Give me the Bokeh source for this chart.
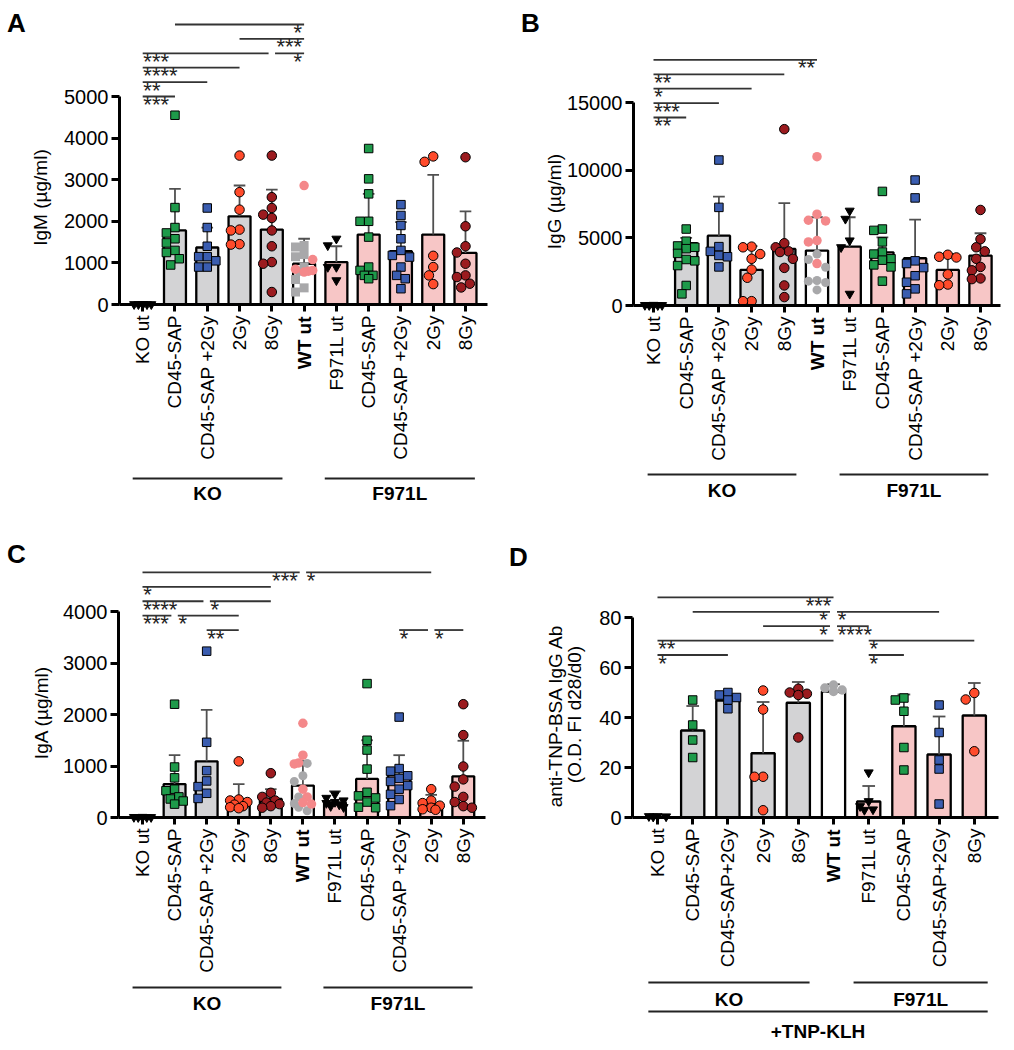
import math
from bokeh.plotting import figure
from bokeh.models import (ColumnDataSource, FixedTicker, Label, LinearAxis,
                          Range1d)
from bokeh.core.properties import value
from bokeh.embed import file_html
from bokeh.resources import INLINE

FONT = "Liberation Sans"

# ---------------------------------------------------------------- data
CATS_ABC = ["KO ut", "CD45-SAP", "CD45-SAP +2Gy", "2Gy", "8Gy", "WT ut",
            "F971L ut", "CD45-SAP", "CD45-SAP +2Gy", "2Gy", "8Gy"]
CATS_D = ["KO ut", "CD45-SAP", "CD45-SAP+2Gy", "2Gy", "8Gy", "WT ut",
          "F971L ut", "CD45-SAP", "CD45-SAP+2Gy", "8Gy"]
GROUPS = ["KO", "F971L"]
IMMUNIZATION = "+TNP-KLH"

# A: IgM
IGM_TICKS = [0, 1000, 2000, 3000, 4000, 5000]
IGM_MEAN = [5, 1780, 1370, 2120, 1800, 980, 1020, 1680, 1280, 1680, 1240]
IGM_SD = [0, 1000, 480, 740, 960, 600, 380, 980, 700, 1435, 1000]
IGM_POINTS = [
    [8, 6, 5, 4, 3, 2],
    [4550, 2330, 1850, 1720, 1580, 1480, 1300, 1250, 1100, 950],
    [2320, 1850, 1400, 1150, 1150, 1050, 900, 900],
    [3580, 2700, 2280, 1800, 1780, 1450, 1440],
    [3580, 2580, 2320, 2160, 2080, 1780, 1400, 1020, 980, 300],
    [1420, 1380, 1200, 1150, 900, 800, 600, 400, 300],
    [1580, 1420, 900, 900, 580],
    [3750, 3020, 2660, 2000, 2000, 1620, 900, 820, 700, 700, 620],
    [2400, 2140, 1900, 1580, 1300, 1180, 1140, 900, 700, 620, 380],
    [3560, 3430, 1170, 900, 700, 490],
    [3540, 1880, 1400, 1250, 980, 700, 660, 500, 410],
]
IGM_WT_PINK = [2860, 1080, 850, 820, 800, 780]
IGM_SIG = [(1, 5, "*", "R", 5), (3, 5, "***", "R", 4), (0, 4, "***", "L", 3),
           (4, 5, "*", "R", 3), (0, 3, "****", "L", 2), (0, 2, "**", "L", 1),
           (0, 1, "***", "L", 0)]

# B: IgG
IGG_TICKS = [0, 5000, 10000, 15000]
IGG_MEAN = [30, 4600, 5160, 2630, 4180, 4060, 4350, 3930, 3490, 2630, 3690]
IGG_SD = [0, 390, 2880, 1750, 3390, 2460, 2170, 1110, 2850, 1180, 1650]
IGG_POINTS = [
    [40, 30, 25, 20, 15, 10],
    [5650, 4750, 4400, 4300, 4200, 3850, 3400, 3300, 2950, 1480, 860],
    [10750, 7250, 4350, 4000, 3700, 3600, 2850],
    [4350, 4300, 3800, 3450, 2650, 2050, 320, 320],
    [13030, 4600, 4300, 4000, 3950, 3450, 2780, 1480, 620],
    [3800, 3400, 2830, 1850, 1800, 1700, 1150],
    [7000, 6400, 4800, 4300, 860],
    [8430, 5650, 5550, 4700, 3950, 3800, 3450, 3350, 3000, 2850, 1800],
    [9270, 7950, 3300, 3100, 2800, 2200, 1720, 1230, 860],
    [3750, 3600, 3550, 2300, 1550, 1500],
    [7060, 4900, 4300, 4000, 3450, 2850, 2600, 2000, 1950],
]
IGG_WT_PINK = [11000, 6750, 6300, 6250, 4800, 4700, 3100]
IGG_SIG = [(0, 5, "**", "R", 4), (0, 4, "**", "L", 3), (0, 3, "*", "L", 2),
           (0, 2, "***", "L", 1), (0, 1, "**", "L", 0)]

# C: IgA
IGA_TICKS = [0, 1000, 2000, 3000, 4000]
IGA_MEAN = [5, 650, 1090, 340, 360, 620, 290, 750, 820, 260, 800]
IGA_SD = [0, 560, 1000, 310, 190, 480, 220, 750, 390, 180, 690]
IGA_POINTS = [
    [10, 8, 6, 5, 4, 3],
    [2200, 980, 770, 550, 520, 400, 360, 320, 260],
    [3230, 1460, 910, 710, 600, 470, 370],
    [1090, 350, 330, 300, 250, 220, 200, 180],
    [860, 480, 400, 330, 290, 260, 220, 190],
    [1050, 810, 700, 400, 270, 200, 130],
    [450, 380, 330, 300, 280, 250, 220, 200],
    [2600, 1500, 1310, 940, 490, 420, 380, 300, 200, 190],
    [1950, 950, 900, 810, 760, 700, 620, 550, 450, 350, 230],
    [550, 330, 280, 230, 190, 160, 150],
    [2200, 1600, 990, 740, 600, 400, 300, 220, 190],
]
IGA_WT_PINK = [1830, 1210, 1060, 1040, 550, 400, 290, 260]
IGA_SIG = [(0, 5, "***", "R", 4), (5, 9, "*", "L", 4), (0, 4, "*", "L", 3),
           (0, 2, "****", "L", 2), (2, 4, "*", "L", 2), (0, 1, "***", "L", 1),
           (1, 3, "*", "L", 1), (2, 3, "**", "L", 0), (8, 9, "*", "L", 0),
           (9, 10, "*", "L", 0)]

# D: anti-TNP-BSA IgG
TNP_TICKS = [0, 20, 40, 60, 80]
TNP_MEAN = [0.3, 34.8, 46.8, 25.7, 45.9, 50.4, 6.4, 36.5, 25.2, 40.8]
TNP_SD = [0, 9.8, 2.0, 20.5, 8.3, 2.9, 6.2, 12.7, 15.2, 13.0]
TNP_POINTS = [
    [0.5, 0.5, 0.4, 0.3],
    [47, 37, 31, 24],
    [50, 49, 48, 47, 43.5],
    [50.8, 43.2, 16.3, 16.3, 2.9],
    [51.5, 50, 49.5, 49, 32],
    [53, 51.8, 51, 50.4],
    [18, 6.5, 4.5, 3.2, 3.0],
    [47.8, 47, 42.5, 28, 19],
    [45, 34, 23, 19.4, 5.4],
    [49.8, 47.2, 26.5],
]
TNP_SIG = [(0, 5, "***", "R", 4), (1, 5, "*", "R", 3), (5, 8, "*", "L", 3),
           (3, 5, "*", "R", 2), (5, 6, "****", "L", 2), (0, 5, "**", "L", 1),
           (6, 9, "*", "L", 1), (0, 2, "*", "L", 0), (6, 7, "*", "L", 0)]

# ---------------------------------------------------------------- styles
GREY_BAR = "#D3D3D5"
PINK_BAR = "#F7C6C6"
WHITE = "#FFFFFF"
GREEN = "#1E9A4A"
BLUE = "#3A5DB0"
RED = "#FF4B2B"
DRED = "#9B1B1F"
WT_GREY = "#A8A8AA"
WT_PINK = "#F4888A"

TRI = ("inverted_triangle", "black", "black", 9)
SQ_G = ("square", GREEN, "black", 8.5)
SQ_B = ("square", BLUE, "black", 8.5)
CI_R = ("circle", RED, "black", 9.5)
CI_D = ("circle", DRED, "black", 9.5)
PINK_PT = ("circle", WT_PINK, None, 9.5)

FILLS_ABC = [WHITE, GREY_BAR, GREY_BAR, GREY_BAR, GREY_BAR, WHITE,
             PINK_BAR, PINK_BAR, PINK_BAR, PINK_BAR, PINK_BAR]
FILLS_D = [WHITE, GREY_BAR, GREY_BAR, GREY_BAR, GREY_BAR, WHITE,
           PINK_BAR, PINK_BAR, PINK_BAR, PINK_BAR]


def marks_abc(wt_marker):
    return [TRI, SQ_G, SQ_B, CI_R, CI_D, (wt_marker, WT_GREY, None, 9),
            TRI, SQ_G, SQ_B, CI_R, CI_D]


MARKS_D = [TRI, SQ_G, SQ_B, CI_R, CI_D, ("circle", WT_GREY, None, 9.5),
           TRI, SQ_G, SQ_B, CI_R]

# page area covered by the single figure (the Bokeh page has no body margin)
PX0, PY0, PW, PH = 0, 0, 1008, 1046

p = figure(width=PW, height=PH, x_range=(0, PW), y_range=(PH, 0),
           x_axis_location=None, y_axis_location=None,
           output_backend="svg", toolbar_location=None, min_border=0)
p.title.visible = False
p.outline_line_color = None
p.grid.visible = False
p.background_fill_color = "white"

XR, YR = {}, {}


def swarm(vals, d, ppu, sx, maxw):
    """Horizontal offsets (category units) so markers do not overlap."""
    order = sorted(range(len(vals)), key=lambda k: -vals[k])
    cands = [0.0]
    for m in range(1, 8):
        cands += [-m * d * 0.5, m * d * 0.5]
    cands = [c for c in cands if abs(c) <= maxw]
    placed = []
    offs = [0.0] * len(vals)
    for k in order:
        y = vals[k] * ppu
        best = None
        for c in cands:
            if all((c - px) ** 2 + (y - py) ** 2 >= d * d for px, py in placed):
                best = c
                break
        if best is None:
            best = max(cands, key=lambda c: min((c - px) ** 2 + (y - py) ** 2
                                                 for px, py in placed))
        placed.append((best, y))
        offs[k] = best / sx
    return offs


def build(key, cfg, cats, means, sds, points, wt_pink, fills, marks, sigs,
          ticks, ytitle, letter, bar_w):
    xr, yr = key + "x", key + "y"
    sx = cfg["sx"]
    ppu = cfg["tick_px"] / ticks[-1]
    upp = 1.0 / ppu
    XR[xr] = Range1d((PX0 - cfg["px0"]) / sx, (PX0 + PW - cfg["px0"]) / sx)
    YR[yr] = Range1d((cfg["py0"] - PY0 - PH) * upp, (cfg["py0"] - PY0) * upp)
    rk = dict(x_range_name=xr, y_range_name=yr)

    def pdata(px, py):
        return (px - cfg["px0"]) / sx, (cfg["py0"] - py) * upp

    n = len(cats)
    yaxis_x = pdata(cfg["yax"], 0)[0]
    xend = pdata(cfg["xend"], 0)[0]

    xa = LinearAxis(ticker=FixedTicker(ticks=list(range(n))),
                    fixed_location=0, bounds=(yaxis_x, xend), **rk)
    ya = LinearAxis(ticker=FixedTicker(ticks=ticks), fixed_location=yaxis_x,
                    bounds=(0, ticks[-1]), **rk)
    for ax in (xa, ya):
        ax.axis_line_width = 3
        ax.axis_line_color = "black"
        ax.major_tick_line_width = 3
        ax.major_tick_line_color = "black"
        ax.major_tick_in = 0
        ax.minor_tick_line_color = None
        ax.major_label_text_font = FONT
        ax.major_label_text_color = "black"
    ya.major_label_text_font_size = "20px"
    xa.major_label_text_font_size = "19px"
    ya.major_tick_out = 8
    ya.major_label_standoff = 3
    xa.major_tick_out = 7
    xa.major_label_standoff = 4
    xa.major_label_orientation = math.pi / 2
    ov = {}
    for i, c in enumerate(cats):
        ov[i] = "" if c == "WT ut" else c
    xa.major_label_overrides = ov
    p.add_layout(xa, "below")
    p.add_layout(ya, "left")

    # bars
    xs = list(range(n))
    p.vbar(x="x", top="top", bottom=0, width=bar_w, fill_color="fill",
           line_color="black", line_width=2.3,
           source=ColumnDataSource(dict(x=xs, top=means, fill=fills)), **rk)
    # error bars (upper SD)
    ex, ey0, ey1, cx0, cx1 = [], [], [], [], []
    for i in range(n):
        if sds[i] > 0:
            ex.append(i); ey0.append(means[i]); ey1.append(means[i] + sds[i])
            cx0.append(i - 0.18); cx1.append(i + 0.18)
    p.segment(x0=ex, y0=ey0, x1=ex, y1=ey1, line_color="#505050",
              line_width=1.8, **rk)
    p.segment(x0=cx0, y0=ey1, x1=cx1, y1=ey1, line_color="#505050",
              line_width=1.8, **rk)

    # points
    groups = {}
    for i in range(n):
        vals = list(points[i])
        styles = [marks[i]] * len(vals)
        if cats[i] == "WT ut" and wt_pink:
            vals += list(wt_pink)
            styles += [PINK_PT] * len(wt_pink)
        offs = swarm(vals, 8.6, ppu, sx, 9.5)
        for v, o, st in zip(vals, offs, styles):
            g = groups.setdefault(st, ([], []))
            g[0].append(i + o)
            g[1].append(v)
    for st, (gx, gy) in groups.items():
        mk, fc, lc, sz = st
        p.scatter(x=gx, y=gy, marker=mk, size=sz, fill_color=fc,
                  line_color=lc, line_width=1, **rk)

    # significance brackets
    step = 14.4 * upp
    lx0, lx1, ly = [], [], []
    L = dict(x=[], y=[], t=[])
    R = dict(x=[], y=[], t=[])
    for (i, j, s, side, lev) in sigs:
        a, b = float(i), float(j)
        for (i2, j2, _, _, lev2) in sigs:
            if lev2 == lev and (i2, j2) != (i, j):
                if j2 == i:
                    a = i + 0.1
                if i2 == j:
                    b = j - 0.1
        y = cfg["sig_base"] + lev * step
        lx0.append(a); lx1.append(b); ly.append(y)
        ty = y - 8 * upp
        if side == "L":
            L["x"].append(a + 0.02); L["y"].append(ty); L["t"].append(s)
        else:
            R["x"].append(b - 0.06); R["y"].append(ty); R["t"].append(s)
    p.segment(x0=lx0, y0=ly, x1=lx1, y1=ly, line_color="#333333",
              line_width=1.8, **rk)
    for src, al in ((L, "left"), (R, "right")):
        p.text(x="x", y="y", text="t", source=ColumnDataSource(src),
               text_align=al, text_baseline="alphabetic",
               text_font=value(FONT), text_font_size="22px",
               text_color="#222222", **rk)

    # bold WT label on the category axis
    wi = cats.index("WT ut")
    p.add_layout(Label(x=wi, y=-12 * upp, text="WT ut", angle=math.pi / 2,
                       text_align="right", text_baseline="middle",
                       text_font=FONT, text_font_size="19px",
                       text_font_style="bold", text_color="black", **rk))

    # group brackets below the axis
    gx0, gx1, gy = [], [], []

    def btext(x, px_below, t):
        p.add_layout(Label(x=x, y=-px_below * upp, text=t, text_align="center",
                           text_baseline="middle", text_font=FONT,
                           text_font_size="19px", text_font_style="bold",
                           text_color="black", **rk))

    for name, (a, b) in zip(GROUPS, cfg["groups"]):
        gx0.append(a); gx1.append(b); gy.append(-cfg["gline"] * upp)
        btext((a + b) / 2, cfg["gtext"], name)
    if "imm" in cfg:
        a, b = cfg["groups"][0][0], cfg["groups"][1][1]
        gx0.append(a); gx1.append(b); gy.append(-cfg["imm"][0] * upp)
        btext((a + b) / 2, cfg["imm"][1], IMMUNIZATION)
    p.segment(x0=gx0, y0=gy, x1=gx1, y1=gy, line_color="#222222",
              line_width=2, **rk)

    # y title(s)
    for (tx, tyy, t) in ytitle:
        dx, dy = pdata(tx, tyy)
        p.add_layout(Label(x=dx, y=dy, text=t, angle=math.pi / 2,
                           text_align="center", text_baseline="middle",
                           text_font=FONT, text_font_size="19px",
                           text_color="black", **rk))
    # panel letter
    lx, lyy, lt = letter
    dx, dy = pdata(lx, lyy)
    p.add_layout(Label(x=dx, y=dy, text=lt, text_align="center",
                       text_baseline="middle", text_font=FONT,
                       text_font_size="26px", text_font_style="bold",
                       text_color="black", **rk))


CFG_A = dict(px0=142.2, sx=32.28, py0=304, tick_px=208, yax=119, xend=487,
             sig_base=5000, groups=[(-0.31, 4.33), (5.64, 10.29)],
             gline=174, gtext=189)
CFG_B = dict(px0=653, sx=32.7, py0=305, tick_px=203, yax=633, xend=1000,
             sig_base=13890, groups=[(-0.18, 4.37), (5.69, 10.24)],
             gline=169, gtext=185)
CFG_C = dict(px0=142, sx=32.08, py0=817, tick_px=206, yax=118, xend=485,
             sig_base=3640, groups=[(-0.31, 4.33), (5.64, 10.29)],
             gline=170, gtext=186)
CFG_D = dict(px0=657, sx=35.2, py0=817, tick_px=200, yax=632, xend=998,
             sig_base=65.0, groups=[(-0.26, 4.32), (5.57, 9.38)],
             gline=165, gtext=182, imm=(194, 214))

build("A", CFG_A, CATS_ABC, IGM_MEAN, IGM_SD, IGM_POINTS, IGM_WT_PINK,
      FILLS_ABC, marks_abc("square"), IGM_SIG, IGM_TICKS,
      [(40, 197, "IgM (µg/ml)")], (16, 22, "A"), 0.68)
build("B", CFG_B, CATS_ABC, IGG_MEAN, IGG_SD, IGG_POINTS, IGG_WT_PINK,
      FILLS_ABC, marks_abc("circle"), IGG_SIG, IGG_TICKS,
      [(554, 201, "IgG (µg/ml)")], (530, 22, "B"), 0.68)
build("C", CFG_C, CATS_ABC, IGA_MEAN, IGA_SD, IGA_POINTS, IGA_WT_PINK,
      FILLS_ABC, marks_abc("circle"), IGA_SIG, IGA_TICKS,
      [(41, 712, "IgA (µg/ml)")], (16, 553, "C"), 0.68)
build("D", CFG_D, CATS_D, TNP_MEAN, TNP_SD, TNP_POINTS, None,
      FILLS_D, MARKS_D, TNP_SIG, TNP_TICKS,
      [(555, 715, "anti-TNP-BSA IgG Ab"), (574, 714, "(O.D. FI d28/d0)")],
      (518, 556, "D"), 0.66)

p.extra_x_ranges = XR
p.extra_y_ranges = YR

open("out.html", "w").write(file_html(p, INLINE))
